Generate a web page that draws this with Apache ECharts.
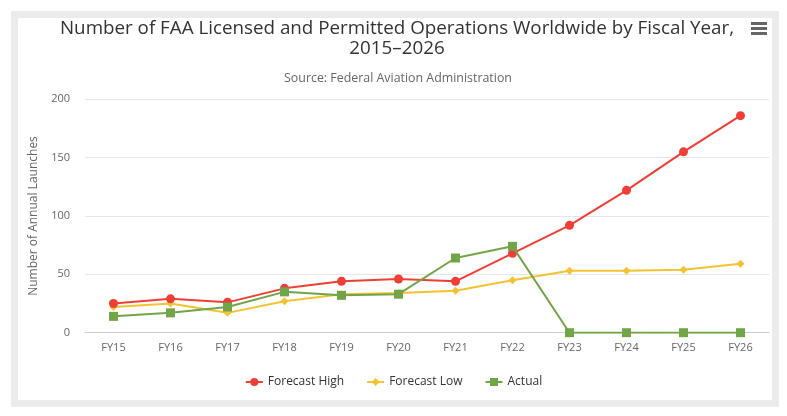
<!DOCTYPE html>
<html>
<head>
<meta charset="utf-8">
<script src="https://cdn.jsdelivr.net/npm/echarts@6/dist/echarts.min.js"></script>
<style>
html,body{margin:0;padding:0;background:#fff;}
#frame{position:absolute;left:11px;top:11px;width:754px;height:382px;border:7px solid #ebebeb;background:#fff;}
#chart{position:absolute;left:0;top:0;width:787px;height:416px;}
</style>
</head>
<body>
<div id="frame"></div>
<div id="chart"></div>
<script>
var categories = ['FY15','FY16','FY17','FY18','FY19','FY20','FY21','FY22','FY23','FY24','FY25','FY26'];
var forecastHigh = [25, 29, 26, 38, 44, 46, 44, 68, 92, 122, 155, 186];
var forecastLow  = [22, 25, 17, 27, 33, 34, 36, 45, 53, 53, 54, 59];
var actual       = [14, 17, 22, 35, 32, 33, 64, 74, 0, 0, 0, 0];
var yTicks = [0, 50, 100, 150, 200];

var FONT = '"Open Sans", "DejaVu Sans", sans-serif';
var chart = echarts.init(document.getElementById('chart'), null, {renderer: 'canvas'});
chart.setOption({
  backgroundColor: 'transparent',
  animation: false,
  textStyle: {fontFamily: FONT},
  title: [{
    text: 'Number of FAA Licensed and Permitted Operations Worldwide by Fiscal Year,\n2015\u20132026',
    left: 392, top: 14, textAlign: 'center',
    textStyle: {fontFamily: FONT, fontSize: 18.8, fontWeight: 'normal', color: '#333', lineHeight: 20}
  }, {
    text: 'Source: Federal Aviation Administration',
    left: 393, top: 67, textAlign: 'center',
    textStyle: {fontFamily: FONT, fontSize: 12.4, fontWeight: 'normal', color: '#666'}
  }],
  graphic: [
    {type: 'rect', shape: {x: 751, y: 22, width: 16, height: 3}, style: {fill: '#666'}},
    {type: 'rect', shape: {x: 751, y: 27, width: 16, height: 3}, style: {fill: '#666'}},
    {type: 'rect', shape: {x: 751, y: 32, width: 16, height: 3}, style: {fill: '#666'}}
  ],
  legend: {
    bottom: 23, left: 'center',
    itemWidth: 17, itemHeight: 10, itemGap: 22,
    textStyle: {fontFamily: FONT, fontSize: 12, color: '#333'},
    data: [
      {name: 'Forecast High'},
      {name: 'Forecast Low'},
      {name: 'Actual'}
    ]
  },
  grid: {left: 85, right: 18, top: 99.3, bottom: 83.3, containLabel: false},
  xAxis: {
    type: 'category',
    data: categories,
    boundaryGap: true,
    axisLine: {show: true, lineStyle: {color: '#cccccc'}},
    axisTick: {show: false},
    axisLabel: {color: '#666', fontSize: 11, margin: 10, fontFamily: FONT}
  },
  yAxis: {
    type: 'value',
    min: yTicks[0], max: yTicks[yTicks.length - 1], interval: 50,
    name: 'Number of Annual Launches',
    nameLocation: 'middle', nameGap: 45, nameRotate: 90,
    nameTextStyle: {color: '#666', fontSize: 12, fontFamily: FONT},
    axisLine: {show: false},
    axisTick: {show: false},
    axisLabel: {color: '#666', fontSize: 11, margin: 15, fontFamily: FONT},
    splitLine: {lineStyle: {color: '#e6e6e6', width: 1}}
  },
  series: [
    {name: 'Forecast High', type: 'line', data: forecastHigh, symbol: 'circle', symbolSize: 9,
     color: '#ef3e36', lineStyle: {width: 2}, itemStyle: {color: '#ef3e36'}, z: 3},
    {name: 'Forecast Low', type: 'line', data: forecastLow, symbol: 'diamond', symbolSize: 8,
     color: '#f5c231', lineStyle: {width: 2}, itemStyle: {color: '#f5c231'}, z: 2},
    {name: 'Actual', type: 'line', data: actual, symbol: 'rect', symbolSize: 9,
     color: '#72a548', lineStyle: {width: 2}, itemStyle: {color: '#72a548'}, z: 4}
  ]
});
</script>
</body>
</html>
